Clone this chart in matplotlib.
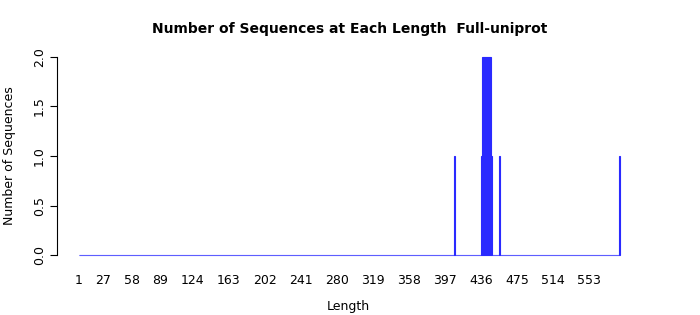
import numpy as np
import matplotlib
matplotlib.use("Agg")
import matplotlib.pyplot as plt

# sequence lengths that occur, and how many sequences have each length
lengths = [407, 437, 438, 439, 440, 441, 442, 443, 444, 445, 446, 447, 456, 586]
counts = [1, 1, 2, 2, 2, 2, 2, 2, 2, 2, 2, 1, 1, 1]
max_len = 586
tick_labels = [1, 27, 58, 89, 124, 163, 202, 241, 280, 319, 358, 397, 436, 475, 514, 553]

all_len = np.arange(1, max_len + 1)
all_cnt = np.zeros(max_len)
for l, c in zip(lengths, counts):
    all_cnt[l - 1] = c

fig = plt.figure(figsize=(7, 3.15), dpi=100)
ax = fig.add_axes([57/700, 1 - 262/315, (640-57)/700, (262-50)/315])

ax.bar(all_len, all_cnt, width=1.0, color="blue", edgecolor="#2a2aff", linewidth=0.8)

ax.set_xlim(-22.8, 608)
ax.set_ylim(-0.07, 2.07)

for s in ["top", "right", "bottom"]:
    ax.spines[s].set_visible(False)
ax.spines["left"].set_bounds(0, 2)
ax.spines["left"].set_linewidth(0.8)

ax.set_yticks([0, 0.5, 1.0, 1.5, 2.0])
ax.set_yticklabels(["0.0", "0.5", "1.0", "1.5", "2.0"], rotation=90, va="center", fontsize=9)
ax.tick_params(axis="y", length=5, width=0.8, pad=3)

ax.set_xticks(tick_labels)
ax.set_xticklabels([str(t) for t in tick_labels], fontsize=9)
ax.tick_params(axis="x", length=0, pad=9)

ax.set_xlabel("Length", fontsize=9, labelpad=9)
ax.set_ylabel("Number of Sequences", fontsize=9, labelpad=12)
fig.suptitle("Number of Sequences at Each Length  Full-uniprot", fontsize=10, fontweight="bold", y=0.93)

fig.savefig("out.png", dpi=100)
